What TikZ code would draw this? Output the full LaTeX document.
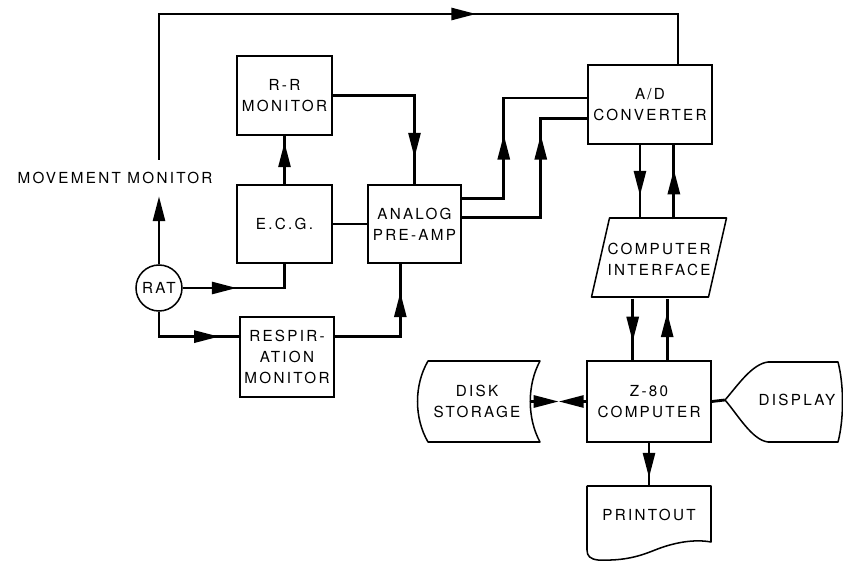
\documentclass[tikz,border=0pt]{standalone}
\usepackage{fontspec}
\newfontfamily\blockfont{TeX Gyre Heros}[LetterSpace=15]
\usetikzlibrary{arrows.meta, calc, decorations.markings}
\tikzset{
  font=\blockfont\fontsize{13pt}{18pt}\selectfont,   % spaced capitals everywhere
  block/.style     = {rectangle, draw, line width=1.3pt, align=center,
                      inner sep=1pt, minimum width=2.85cm, minimum height=2.37cm},
  wideblock/.style = {block, minimum width=3.72cm},
  shapetext/.style = {rectangle, align=center, inner sep=0pt},
  shapeline/.style = {line width=1.3pt, line join=round},
  wire/.style      = {line width=2.4pt},
  endarrow/.style  = {wire, -{Triangle[length=7.5mm, width=3.6mm]}},
  arrowat/.style   = {wire, postaction={decorate},
                      decoration={markings, mark=at position #1 with
                        {\arrow{Triangle[length=7.5mm, width=3.6mm]}}}}
}

\begin{document}
\begin{tikzpicture}[x=0.03cm, y=-0.03cm]
  \useasboundingbox (0,0) rectangle (843,561);
  % measuring blocks
  \node[block] (rr) at (284.5,95.5) {R-R\\MONITOR};
  \node[block, minimum height=2.34cm] (ecg) at (284.5,224) {E.C.G.};
  \node[block, minimum width=2.79cm, minimum height=2.34cm] (analog) at (414.5,224) {ANALOG\\PRE-AMP};
  \node[block, minimum width=2.82cm, minimum height=2.4cm] (resp) at (287,357) {RESPIR-\\ATION\\MONITOR};
  \node[circle, draw, line width=1.3pt, minimum size=1.38cm, inner sep=0pt] (rat) at (159,288) {RAT};
  \node[shapetext, minimum height=1.08cm] (move) at (115,178) {MOVEMENT MONITOR};
  % computer side
  \node[wideblock] (ad) at (650,104.5) {A/D\\CONVERTER};
  \node[wideblock, minimum height=2.43cm] (z80) at (649,401.5) {Z-80\\COMPUTER};
  \node[shapetext, minimum width=3.51cm, minimum height=2.37cm] (iface) at (659,259) {COMPUTER\\INTERFACE};
  \node[shapetext, minimum width=3.24cm, minimum height=2.43cm] (disk) at (477,401.5) {DISK\\STORAGE};
  \node[shapetext, minimum width=4.32cm] (disp) at (797,400) {DISPLAY};
  \node[shapetext, minimum width=3.72cm, minimum height=1.74cm] (prn) at (649,515) {PRINTOUT};
  % outlines of the odd shapes
  \draw[shapeline] (609.5,218) -- (726.5,218) -- (708.5,297) -- (591.5,297) -- cycle;
  \draw[shapeline] (428,361) -- (540,361) .. controls (527,385) and (527,418) .. (540,442)
    -- (428,442) .. controls (414,418) and (414,385) .. (428,361) -- cycle;
  \draw[shapeline] (725,400) .. controls (738,385) and (752,364) .. (768,362) -- (838,362)
    .. controls (844,385) and (844,419) .. (838,442) -- (768,442)
    .. controls (752,440) and (738,415) .. (725,400) -- cycle;
  \draw[shapeline] (587,486) -- (587,550) .. controls (587,556) and (590,559) .. (598,560)
    .. controls (625,561) and (640,556) .. (655,550) .. controls (675,542) and (695,539) .. (711,542)
    -- (711,486) -- cycle;
  % connectors
  \coordinate (cornerTR) at (678,14);
  \draw[endarrow] (rat.north) -- (rat.north |- move.south);
  \draw[arrowat=13.89cm] (rat.north |- move.north) |- (cornerTR) -- (cornerTR |- ad.north);
  \draw[arrowat=1.26cm] (ecg.north) -- (rr.south);
  \draw[arrowat=4.32cm] (rr.east) -| (analog.north);
  \draw[wire] (ecg.east) -- (analog.west);
  \draw[arrowat=1.62cm] (rat.east) -| (ecg.south);
  \draw[arrowat=2.55cm] (rat.south) |- ($(resp.north west)!0.25!(resp.south west)$);
  \draw[arrowat=3.3cm] ($(resp.north east)!0.25!(resp.south east)$)
    -| ($(analog.south west)!0.35!(analog.south east)$);
  \draw[arrowat=3.18cm] ($(analog.north east)!0.18!(analog.south east)$) -- ++(42,0)
    |- ($(ad.north west)!0.42!(ad.south west)$);
  \draw[arrowat=4.86cm] ($(analog.north east)!0.42!(analog.south east)$) -- ++(79,0)
    |- ($(ad.north west)!0.67!(ad.south west)$);
  \coordinate (adout) at ($(ad.south west)!0.42!(ad.south east)$);
  \coordinate (adin) at ($(ad.south west)!0.69!(ad.south east)$);
  \coordinate (zin) at ($(z80.north west)!0.37!(z80.north east)$);
  \coordinate (zout) at ($(z80.north west)!0.645!(z80.north east)$);
  \draw[arrowat=1.53cm] (adout) -- (adout |- iface.north);
  \draw[arrowat=1.5cm] (adin |- iface.north) -- (adin);
  \draw[arrowat=1.29cm] (zin |- iface.south) -- (zin);
  \draw[arrowat=1.44cm] (zout) -- (zout |- iface.south);
  \draw[arrowat=1.05cm] (z80.south) -- (prn.north);
  \coordinate (dzmid) at ($(disk.east)!0.5!(z80.west)$);
  \draw[endarrow] (disk.east) -- (dzmid);
  \draw[endarrow] (z80.west) -- (dzmid);
  \draw[wire] (z80.east) -- (disp.west);
\end{tikzpicture}
\end{document}
